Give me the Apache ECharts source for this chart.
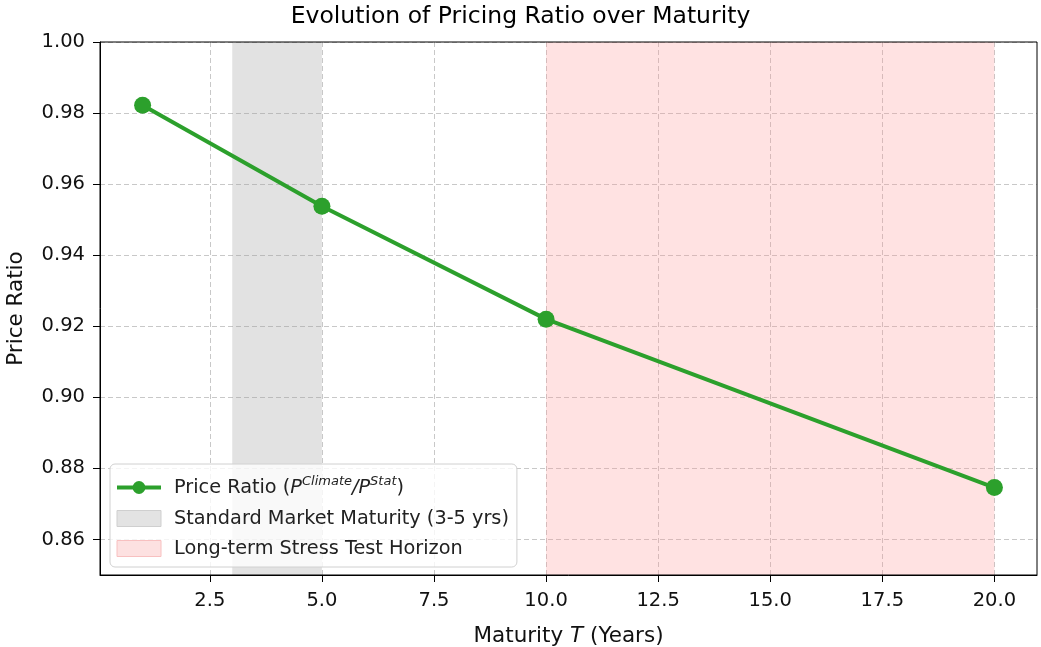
<!DOCTYPE html>
<html><head><meta charset="utf-8">
<script src="https://cdn.jsdelivr.net/npm/echarts@6/dist/echarts.min.js"></script>
<style>html,body{margin:0;padding:0;background:#fff}#c{width:1041px;height:647px}</style>
</head><body><div id="c"></div>
<script>
const maturities = [1, 5, 10, 20];
const priceRatio = [0.9822, 0.9538, 0.9220, 0.8746];
const xTicks = [2.5, 5.0, 7.5, 10.0, 12.5, 15.0, 17.5, 20.0];
const yTicks = [0.86, 0.88, 0.90, 0.92, 0.94, 0.96, 0.98, 1.00];
const marketBand = [3, 5];
const stressBand = [10, 20];
const names = ['Price Ratio (P^Climate/P^Stat)', 'Standard Market Maturity (3-5 yrs)', 'Long-term Stress Test Horizon'];

const font = 'DejaVu Sans';
const chart = echarts.init(document.getElementById('c'), null, {renderer: 'canvas'});
const gridLine = {show: true, lineStyle: {type: [5, 3], color: '#c8c8c8', width: 1}};
chart.setOption({
  animation: false,
  title: {text: 'Evolution of Pricing Ratio over Maturity', left: 'center', top: 0,
    textStyle: {fontFamily: font, fontSize: 23.5, fontWeight: 'normal', color: '#000'}},
  grid: {left: 100, right: 4, top: 42, bottom: 72, containLabel: false, outerBoundsMode: 'none',
    show: true, borderColor: '#000', borderWidth: 1, z: 10},
  xAxis: {type: 'value', min: 0.05, max: 20.95,
    axisLine: {show: true, lineStyle: {color: '#000'}},
    axisTick: {show: true, length: 7, lineStyle: {color: '#000'}, customValues: xTicks},
    axisLabel: {customValues: xTicks, fontFamily: font, fontSize: 19.5, color: '#111', margin: 16,
      formatter: v => v.toFixed(1)},
    splitLine: gridLine,
    name: '{n|Maturity }{i|T}{n| (Years)}', nameLocation: 'middle', nameGap: 50,
    nameTextStyle: {rich: {n: {fontFamily: font, fontSize: 21.5, color: '#111'}, i: {fontFamily: font, fontSize: 21.5, fontStyle: 'italic', color: '#111'}}}
  },
  yAxis: {type: 'value', min: 0.85, max: 1.0,
    axisLine: {show: true, lineStyle: {color: '#000'}},
    axisTick: {show: true, length: 7, lineStyle: {color: '#000'}, customValues: yTicks},
    axisLabel: {customValues: yTicks, fontFamily: font, fontSize: 19.5, color: '#111', margin: 15,
      formatter: v => v.toFixed(2)},
    splitLine: gridLine,
    name: 'Price Ratio', nameLocation: 'middle', nameGap: 73,
    nameTextStyle: {fontFamily: font, fontSize: 21.5, color: '#111'}
  },
  legend: {
    orient: 'vertical', left: 110, top: 464, padding: [11, 8, 9, 5], itemGap: 11,
    backgroundColor: 'rgba(255,255,255,0.8)', borderColor: '#d0d0d0', borderWidth: 1, borderRadius: 5,
    itemWidth: 44, itemHeight: 16,
    data: [
      {name: names[0], lineStyle: {width: 4}},
      {name: names[1], icon: 'rect', itemStyle: {color: '#e3e3e3', borderColor: '#cfcfcf', borderWidth: 1}},
      {name: names[2], icon: 'rect', itemStyle: {color: '#fde1e1', borderColor: '#f8c0c0', borderWidth: 1}}
    ],
    formatter: function (n) {
      if (n === names[0]) return '{p|Price Ratio (}{i|P}{s|Climate}{i|/P}{s|Stat}{a|)}';
      return '{p|' + n + '}';
    },
    textStyle: {fontFamily: font, fontSize: 19.3, color: '#222',
      rich: {
        p: {fontFamily: font, fontSize: 19.3, color: '#222', lineHeight: 25, padding: [0, 0, 0, 8]},
        a: {fontFamily: font, fontSize: 19.3, color: '#222', lineHeight: 25},
        i: {fontFamily: font, fontSize: 19.3, fontStyle: 'italic', color: '#222', lineHeight: 25},
        s: {fontFamily: font, fontSize: 13, fontStyle: 'italic', color: '#222', verticalAlign: 'top', lineHeight: 25, padding: [0, 0, 10, 0]}
      }}
  },
  series: [
    {name: names[0], type: 'line', data: maturities.map((m, i) => [m, priceRatio[i]]),
      color: '#2ca02c', lineStyle: {width: 4, color: '#2ca02c'},
      symbol: 'circle', symbolSize: 17, itemStyle: {color: '#2ca02c'}, z: 5,
      markArea: {silent: true, data: [
        [{xAxis: marketBand[0], itemStyle: {color: 'rgba(160,160,160,0.3)'}}, {xAxis: marketBand[1]}],
        [{xAxis: stressBand[0], itemStyle: {color: 'rgba(255,150,150,0.28)'}}, {xAxis: stressBand[1]}]
      ]}
    },
    {name: names[1], type: 'bar', data: [], color: '#e3e3e3'},
    {name: names[2], type: 'bar', data: [], color: '#fde1e1'}
  ]
});
</script></body></html>
